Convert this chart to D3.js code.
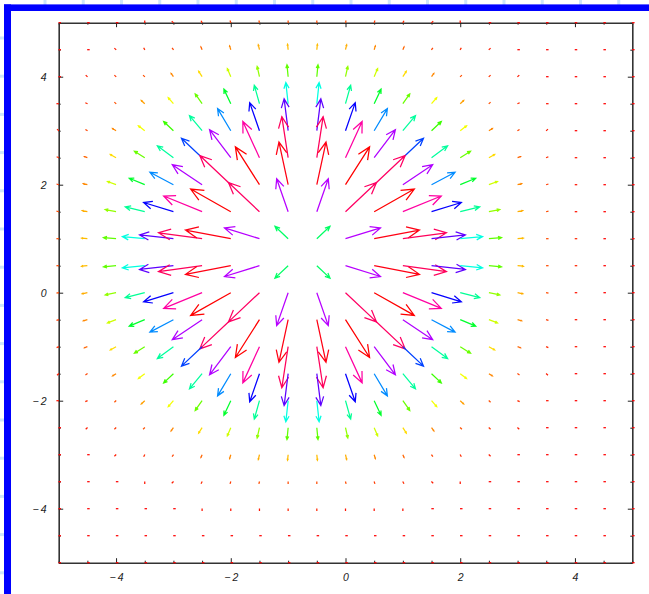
<!DOCTYPE html>
<html>
<head>
<meta charset="utf-8">
<script src="https://cdn.jsdelivr.net/npm/d3@7"></script>
<style>
  body { margin: 0; background: #fff; }
  svg { display: block; }
</style>
</head>
<body>
<svg id="chart" width="649" height="594"></svg>
<script>
// Sample grid of the vector field
const xValues = [-5, -4.5, -4, -3.5, -3, -2.5, -2, -1.5, -1, -0.5, 0, 0.5, 1, 1.5, 2, 2.5, 3, 3.5, 4, 4.5, 5];
const yValues = [5, 4.5, 4, 3.5, 3, 2.5, 2, 1.5, 1, 0.5, 0, -0.5, -1, -1.5, -2, -2.5, -3, -3.5, -4, -4.5, -5];

// Horizontal components, one row per y value (top to bottom), one entry per x value
const uRows = [
  [0, 0, 0, 0, -0.01, -0.01, -0.01, -0.01, 0, 0, 0.01, 0.01, 0.01, 0.01, 0, 0, 0, 0, 0, 0, 0],
  [0, 0, -0.01, -0.01, -0.02, -0.02, -0.02, -0.02, -0.01, 0.01, 0.02, 0.02, 0.02, 0.02, 0.01, 0.01, 0, 0, 0, 0, 0],
  [0, -0.01, -0.02, -0.03, -0.04, -0.06, -0.06, -0.04, -0.02, 0.02, 0.04, 0.06, 0.06, 0.04, 0.03, 0.02, 0.01, 0, 0, 0, 0],
  [-0.01, -0.02, -0.03, -0.06, -0.09, -0.12, -0.12, -0.09, -0.04, 0.04, 0.09, 0.12, 0.12, 0.09, 0.06, 0.03, 0.02, 0.01, 0, 0, 0],
  [-0.01, -0.03, -0.06, -0.11, -0.17, -0.22, -0.23, -0.17, -0.07, 0.07, 0.17, 0.23, 0.22, 0.17, 0.11, 0.06, 0.03, 0.01, 0, 0, 0],
  [-0.02, -0.05, -0.10, -0.18, -0.28, -0.36, -0.37, -0.29, -0.11, 0.11, 0.29, 0.37, 0.36, 0.28, 0.18, 0.10, 0.05, 0.02, 0.01, 0, 0],
  [-0.03, -0.07, -0.15, -0.27, -0.41, -0.52, -0.54, -0.42, -0.16, 0.16, 0.42, 0.54, 0.52, 0.41, 0.27, 0.15, 0.07, 0.03, 0.01, 0, 0],
  [-0.04, -0.09, -0.19, -0.34, -0.52, -0.67, -0.70, -0.54, -0.20, 0.20, 0.54, 0.70, 0.67, 0.52, 0.34, 0.19, 0.09, 0.04, 0.01, 0, 0],
  [-0.04, -0.10, -0.22, -0.39, -0.59, -0.76, -0.79, -0.61, -0.23, 0.23, 0.61, 0.79, 0.76, 0.59, 0.39, 0.22, 0.10, 0.04, 0.02, 0, 0],
  [-0.04, -0.10, -0.22, -0.39, -0.59, -0.76, -0.79, -0.61, -0.23, 0.23, 0.61, 0.79, 0.76, 0.59, 0.39, 0.22, 0.10, 0.04, 0.02, 0, 0],
  [-0.04, -0.09, -0.19, -0.34, -0.52, -0.67, -0.70, -0.54, -0.20, 0.20, 0.54, 0.70, 0.67, 0.52, 0.34, 0.19, 0.09, 0.04, 0.01, 0, 0],
  [-0.03, -0.07, -0.15, -0.27, -0.41, -0.52, -0.54, -0.42, -0.16, 0.16, 0.42, 0.54, 0.52, 0.41, 0.27, 0.15, 0.07, 0.03, 0.01, 0, 0],
  [-0.02, -0.05, -0.10, -0.18, -0.28, -0.36, -0.37, -0.29, -0.11, 0.11, 0.29, 0.37, 0.36, 0.28, 0.18, 0.10, 0.05, 0.02, 0.01, 0, 0],
  [-0.01, -0.03, -0.06, -0.11, -0.17, -0.22, -0.23, -0.17, -0.07, 0.07, 0.17, 0.23, 0.22, 0.17, 0.11, 0.06, 0.03, 0.01, 0, 0, 0],
  [-0.01, -0.02, -0.03, -0.06, -0.09, -0.12, -0.12, -0.09, -0.04, 0.04, 0.09, 0.12, 0.12, 0.09, 0.06, 0.03, 0.02, 0.01, 0, 0, 0],
  [0, -0.01, -0.02, -0.03, -0.04, -0.06, -0.06, -0.04, -0.02, 0.02, 0.04, 0.06, 0.06, 0.04, 0.03, 0.02, 0.01, 0, 0, 0, 0],
  [0, 0, -0.01, -0.01, -0.02, -0.02, -0.02, -0.02, -0.01, 0.01, 0.02, 0.02, 0.02, 0.02, 0.01, 0.01, 0, 0, 0, 0, 0],
  [0, 0, 0, 0, -0.01, -0.01, -0.01, -0.01, 0, 0, 0.01, 0.01, 0.01, 0.01, 0, 0, 0, 0, 0, 0, 0],
  [0, 0, 0, 0, 0, 0, 0, 0, 0, 0, 0, 0, 0, 0, 0, 0, 0, 0, 0, 0, 0],
  [0, 0, 0, 0, 0, 0, 0, 0, 0, 0, 0, 0, 0, 0, 0, 0, 0, 0, 0, 0, 0],
  [0, 0, 0, 0, 0, 0, 0, 0, 0, 0, 0, 0, 0, 0, 0, 0, 0, 0, 0, 0, 0]
];

// Vertical components, same layout
const vRows = [
  [0, 0, 0, 0.01, 0.01, 0.02, 0.03, 0.04, 0.04, 0.04, 0.04, 0.03, 0.02, 0.01, 0.01, 0, 0, 0, 0, 0, 0],
  [0, 0, 0.01, 0.02, 0.03, 0.05, 0.07, 0.09, 0.10, 0.10, 0.09, 0.07, 0.05, 0.03, 0.02, 0.01, 0, 0, 0, 0, 0],
  [0, 0.01, 0.02, 0.03, 0.06, 0.10, 0.15, 0.19, 0.22, 0.22, 0.19, 0.15, 0.10, 0.06, 0.03, 0.02, 0.01, 0, 0, 0, 0],
  [0, 0.01, 0.03, 0.06, 0.11, 0.18, 0.27, 0.34, 0.39, 0.39, 0.34, 0.27, 0.18, 0.11, 0.06, 0.03, 0.01, 0, 0, 0, 0],
  [0.01, 0.02, 0.04, 0.09, 0.17, 0.28, 0.41, 0.52, 0.59, 0.59, 0.52, 0.41, 0.28, 0.17, 0.09, 0.04, 0.02, 0.01, 0, 0, 0],
  [0.01, 0.02, 0.06, 0.12, 0.22, 0.36, 0.52, 0.67, 0.76, 0.76, 0.67, 0.52, 0.36, 0.22, 0.12, 0.06, 0.02, 0.01, 0, 0, 0],
  [0.01, 0.02, 0.06, 0.12, 0.23, 0.37, 0.54, 0.70, 0.79, 0.79, 0.70, 0.54, 0.37, 0.23, 0.12, 0.06, 0.02, 0.01, 0, 0, 0],
  [0.01, 0.02, 0.04, 0.09, 0.17, 0.29, 0.42, 0.54, 0.61, 0.61, 0.54, 0.42, 0.29, 0.17, 0.09, 0.04, 0.02, 0.01, 0, 0, 0],
  [0, 0.01, 0.02, 0.04, 0.07, 0.11, 0.16, 0.20, 0.23, 0.23, 0.20, 0.16, 0.11, 0.07, 0.04, 0.02, 0.01, 0, 0, 0, 0],
  [0, -0.01, -0.02, -0.04, -0.07, -0.11, -0.16, -0.20, -0.23, -0.23, -0.20, -0.16, -0.11, -0.07, -0.04, -0.02, -0.01, 0, 0, 0, 0],
  [-0.01, -0.02, -0.04, -0.09, -0.17, -0.29, -0.42, -0.54, -0.61, -0.61, -0.54, -0.42, -0.29, -0.17, -0.09, -0.04, -0.02, -0.01, 0, 0, 0],
  [-0.01, -0.02, -0.06, -0.12, -0.23, -0.37, -0.54, -0.70, -0.79, -0.79, -0.70, -0.54, -0.37, -0.23, -0.12, -0.06, -0.02, -0.01, 0, 0, 0],
  [-0.01, -0.02, -0.06, -0.12, -0.22, -0.36, -0.52, -0.67, -0.76, -0.76, -0.67, -0.52, -0.36, -0.22, -0.12, -0.06, -0.02, -0.01, 0, 0, 0],
  [-0.01, -0.02, -0.04, -0.09, -0.17, -0.28, -0.41, -0.52, -0.59, -0.59, -0.52, -0.41, -0.28, -0.17, -0.09, -0.04, -0.02, -0.01, 0, 0, 0],
  [0, -0.01, -0.03, -0.06, -0.11, -0.18, -0.27, -0.34, -0.39, -0.39, -0.34, -0.27, -0.18, -0.11, -0.06, -0.03, -0.01, 0, 0, 0, 0],
  [0, -0.01, -0.02, -0.03, -0.06, -0.10, -0.15, -0.19, -0.22, -0.22, -0.19, -0.15, -0.10, -0.06, -0.03, -0.02, -0.01, 0, 0, 0, 0],
  [0, 0, -0.01, -0.02, -0.03, -0.05, -0.07, -0.09, -0.10, -0.10, -0.09, -0.07, -0.05, -0.03, -0.02, -0.01, 0, 0, 0, 0, 0],
  [0, 0, 0, -0.01, -0.01, -0.02, -0.03, -0.04, -0.04, -0.04, -0.04, -0.03, -0.02, -0.01, -0.01, 0, 0, 0, 0, 0, 0],
  [0, 0, 0, 0, 0, -0.01, -0.01, -0.01, -0.02, -0.02, -0.01, -0.01, -0.01, 0, 0, 0, 0, 0, 0, 0, 0],
  [0, 0, 0, 0, 0, 0, 0, 0, 0, 0, 0, 0, 0, 0, 0, 0, 0, 0, 0, 0, 0],
  [0, 0, 0, 0, 0, 0, 0, 0, 0, 0, 0, 0, 0, 0, 0, 0, 0, 0, 0, 0, 0]
];

// Frame ticks
const xTickValues = [-4, -2, 0, 2, 4];
const yTickValues = [-4, -2, 0, 2, 4];

const W = 649, H = 594;
const svg = d3.select("#chart");

// ---- window backdrop: ruled strip and blue edge ----
const bg = svg.append("g");
bg.append("rect").attr("width", W).attr("height", H).attr("fill", "#ffffff");
bg.selectAll("rect.vrule")
  .data(d3.range(45, W, 38.25))
  .join("rect")
  .attr("class", "vrule")
  .attr("x", d => d - 1.5).attr("y", 0)
  .attr("width", 3).attr("height", 5)
  .attr("fill", "#cfe5fa");
bg.selectAll("rect.hrule")
  .data(d3.range(38, H, 38.2))
  .join("rect")
  .attr("class", "hrule")
  .attr("x", 0).attr("y", d => d - 1.5)
  .attr("width", 4.5).attr("height", 3)
  .attr("fill", "#cfe5fa");
bg.append("rect").attr("x", 4).attr("y", 4.4).attr("width", W - 4).attr("height", 6.6).attr("fill", "#0000ff");
bg.append("rect").attr("x", 4).attr("y", 4.4).attr("width", 7).attr("height", H - 4.4).attr("fill", "#0000ff");

// ---- scales ----
const x = d3.scaleLinear().domain([-5, 5]).range([58.7, 632.3]);
const y = d3.scaleLinear().domain([-5, 5]).range([562.7, 22.7]);

const fmt = d => d < 0 ? "\u2212\u2009" + Math.abs(d) : String(d);
const xMinor = xValues.filter(v => !xTickValues.includes(v));
const yMinor = yValues.filter(v => !yTickValues.includes(v));

// ---- frame with inward ticks ----
const frame = svg.append("g").attr("class", "frame");

function side(makeAxis, scale, tx, ty, majors, minors, padding) {
  const g = frame.append("g").attr("transform", `translate(${tx},${ty})`);
  g.append("g").call(makeAxis(scale)
    .tickValues(minors).tickSizeInner(-2).tickSizeOuter(0).tickFormat(() => ""))
    .call(s => s.select(".domain").remove());
  const major = g.append("g").call(makeAxis(scale)
    .tickValues(majors).tickSizeInner(-4.5).tickSizeOuter(0)
    .tickPadding(padding || 3)
    .tickFormat(padding ? fmt : () => ""));
  major.select(".domain").attr("stroke", "#333").attr("stroke-width", 1.6);
  g.selectAll(".tick line").attr("stroke", "#222").attr("stroke-width", 1);
  major.selectAll("text")
    .attr("fill", "#222")
    .style("font-family", "'Liberation Sans', Arial, sans-serif")
    .style("font-style", "italic")
    .style("font-size", "10.5px");
  return g;
}

side(d3.axisBottom, x, 0, y(-5), xTickValues, xMinor, 11);
side(d3.axisTop, x, 0, y(5), xTickValues, xMinor, 0);
side(d3.axisLeft, y, x(-5), 0, yTickValues, yMinor, 12);
side(d3.axisRight, y, x(5), 0, yTickValues, yMinor, 0);

// ---- vector field ----
const cells = [];
yValues.forEach((yv, i) => {
  xValues.forEach((xv, j) => {
    const u = uRows[i][j], v = vRows[i][j];
    cells.push({ x: xv, y: yv, u, v, mag: Math.hypot(u, v) });
  });
});
const maxMag = d3.max(cells, c => c.mag);
const hue = d3.scaleLinear().domain([0, maxMag]).range([0, 360]);

const headFrac = 0.3;
const headAngle = 24 * Math.PI / 180;

function arrowPath(c) {
  const x0 = x(c.x), y0 = y(c.y);
  const x1 = x(c.x + c.u), y1 = y(c.y + c.v);
  const dx = x1 - x0, dy = y1 - y0;
  const L = Math.hypot(dx, dy);
  if (L < 2.4) {
    // near-zero vector: a short stub at the sample point
    const ux = L > 0.3 ? dx / L : 1, uy = L > 0.3 ? dy / L : 0;
    return `M${x0 - 0.2 * ux},${y0 - 0.2 * uy}L${x0 + 2.3 * ux},${y0 + 2.3 * uy}`;
  }
  const a = Math.atan2(dy, dx) + Math.PI;
  const h = headFrac * L;
  const b1x = x1 + h * Math.cos(a - headAngle), b1y = y1 + h * Math.sin(a - headAngle);
  const b2x = x1 + h * Math.cos(a + headAngle), b2y = y1 + h * Math.sin(a + headAngle);
  return `M${x0},${y0}L${x1},${y1}M${b1x},${b1y}L${x1},${y1}L${b2x},${b2y}`;
}

svg.append("g").attr("class", "arrows")
  .selectAll("path")
  .data(cells)
  .join("path")
  .attr("d", arrowPath)
  .attr("fill", "none")
  .attr("stroke", c => d3.hsl(hue(c.mag) % 360, 1, 0.5).toString())
  .attr("stroke-width", 1.25)
  .attr("stroke-linejoin", "miter")
  .attr("stroke-linecap", "butt");
</script>
</body>
</html>
